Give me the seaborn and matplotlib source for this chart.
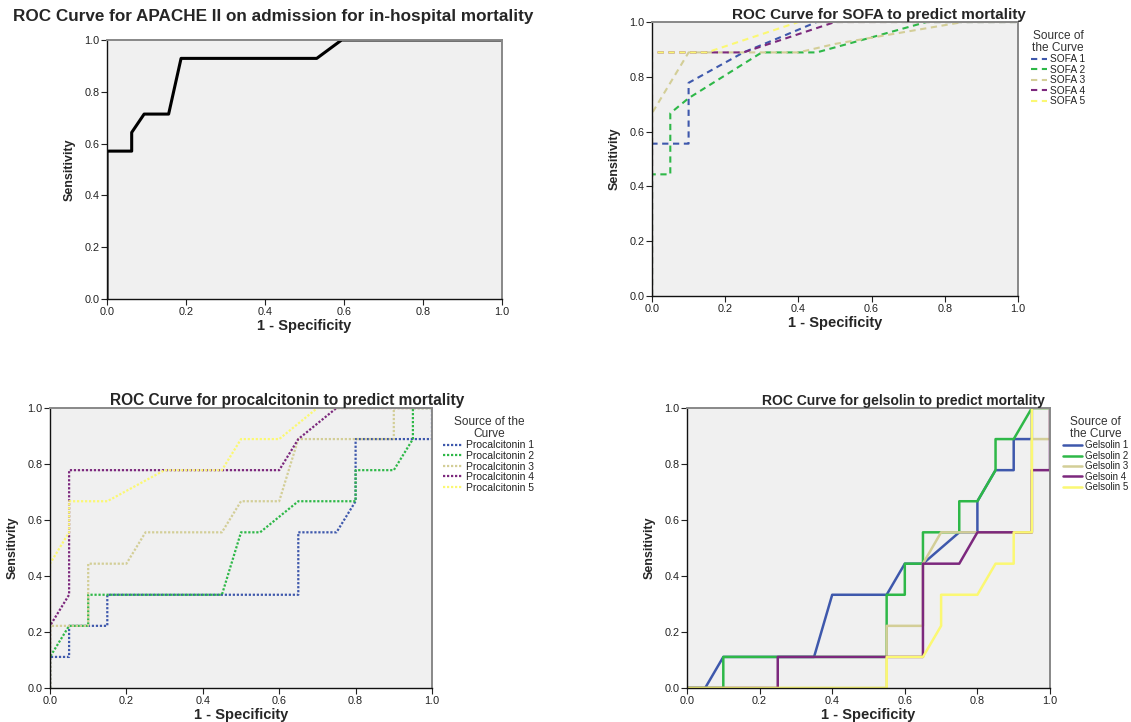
import numpy as np
import pandas as pd
import matplotlib
matplotlib.use("Agg")
import matplotlib.pyplot as plt
import seaborn as sns

sns.set_theme(style="white")
plt.rcParams['font.family'] = ['Liberation Sans', 'DejaVu Sans']

# ---------------- data ----------------
apache_x = [0, 0, 0.0625, 0.0625, 0.094, 0.156, 0.1875, 0.531, 0.594, 1.0]
apache_y = [0, 0.571, 0.571, 0.643, 0.714, 0.714, 0.929, 0.929, 1.0, 1.0]

sofa_labels = ["SOFA 1", "SOFA 2", "SOFA 3", "SOFA 4", "SOFA 5"]
sofa_x = [
    [0, 0, 0.1, 0.1, 0.25, 0.35, 0.45, 1.0],
    [0, 0, 0.05, 0.05, 0.1, 0.3, 0.45, 0.6, 0.75, 1.0],
    [0, 0, 0.1, 0.4, 0.5, 0.85, 1.0],
    [0, 0, 0.25, 0.5, 1.0],
    [0, 0, 0.15, 0.4, 1.0],
]
sofa_y = [
    [0, 0.556, 0.556, 0.778, 0.889, 0.944, 1.0, 1.0],
    [0, 0.444, 0.444, 0.667, 0.722, 0.889, 0.889, 0.944, 1.0, 1.0],
    [0, 0.667, 0.889, 0.889, 0.92, 1.0, 1.0],
    [0, 0.889, 0.889, 1.0, 1.0],
    [0, 0.889, 0.889, 1.0, 1.0],
]

pct_labels = ["Procalcitonin 1", "Procalcitonin 2", "Procalcitonin 3",
              "Procalcitonin 4", "Procalcitonin 5"]
pct_x = [
    [0, 0, 0.05, 0.05, 0.15, 0.15, 0.65, 0.65, 0.75, 0.8, 0.8, 1.0, 1.0],
    [0, 0, 0.05, 0.1, 0.1, 0.45, 0.5, 0.55, 0.65, 0.8, 0.8, 0.9, 0.95, 0.95, 1.0],
    [0, 0, 0.1, 0.1, 0.2, 0.25, 0.45, 0.5, 0.6, 0.65, 0.9, 0.9, 1.0],
    [0, 0, 0.05, 0.05, 0.6, 0.65, 0.75, 1.0],
    [0, 0, 0.05, 0.05, 0.15, 0.3, 0.45, 0.5, 0.6, 0.7, 1.0],
]
pct_y = [
    [0, 0.111, 0.111, 0.222, 0.222, 0.333, 0.333, 0.556, 0.556, 0.667, 0.889, 0.889, 1.0],
    [0, 0.111, 0.222, 0.222, 0.333, 0.333, 0.556, 0.556, 0.667, 0.667, 0.778, 0.778, 0.889, 1.0, 1.0],
    [0, 0.222, 0.222, 0.444, 0.444, 0.556, 0.556, 0.667, 0.667, 0.889, 0.889, 1.0, 1.0],
    [0, 0.222, 0.333, 0.778, 0.778, 0.889, 1.0, 1.0],
    [0, 0.444, 0.556, 0.667, 0.667, 0.778, 0.778, 0.889, 0.889, 1.0, 1.0],
]

gel_labels = ["Gelsolin 1", "Gelsolin 2", "Gelsolin 3", "Gelsoin 4", "Gelsolin 5"]
gel_x = [
    [0, 0.05, 0.1, 0.35, 0.4, 0.55, 0.6, 0.65, 0.75, 0.8, 0.8, 0.85, 0.9, 0.9, 0.95, 0.95, 1.0],
    [0, 0.1, 0.1, 0.25, 0.55, 0.55, 0.6, 0.6, 0.65, 0.65, 0.75, 0.75, 0.8, 0.85, 0.85, 0.9, 0.95, 1.0],
    [0, 0.55, 0.55, 0.65, 0.65, 0.7, 0.8, 0.95, 0.95, 1.0, 1.0],
    [0, 0.25, 0.25, 0.65, 0.65, 0.75, 0.8, 0.95, 0.95, 1.0, 1.0],
    [0, 0.55, 0.55, 0.65, 0.7, 0.7, 0.8, 0.85, 0.9, 0.9, 0.95, 0.95, 1.0],
]
gel_y = [
    [0, 0, 0.111, 0.111, 0.333, 0.333, 0.444, 0.444, 0.556, 0.556, 0.667, 0.778, 0.778, 0.889, 0.889, 1.0, 1.0],
    [0, 0, 0.111, 0.111, 0.111, 0.333, 0.333, 0.444, 0.444, 0.556, 0.556, 0.667, 0.667, 0.778, 0.889, 0.889, 1.0, 1.0],
    [0, 0, 0.222, 0.222, 0.444, 0.556, 0.556, 0.556, 0.889, 0.889, 1.0],
    [0, 0, 0.111, 0.111, 0.444, 0.444, 0.556, 0.556, 0.778, 0.778, 1.0],
    [0, 0, 0.111, 0.111, 0.222, 0.333, 0.333, 0.444, 0.444, 0.556, 0.556, 1.0, 1.0],
]

colors = ["#3E58AC", "#2EB848", "#D3CE97", "#7C287D", "#FBF873"]

# ---------------- figure ----------------
W, H = 1131, 722
fig = plt.figure(figsize=(W / 100, H / 100), dpi=100)
fig.patch.set_facecolor("white")


def make_ax(left, top, right, bottom):
    return fig.add_axes([left / W, 1 - bottom / H, (right - left) / W, (bottom - top) / H])


def style_ax(ax, title, tx, tsize, tpad):
    ax.set_facecolor("#F0F0F0")
    ax.set_xlim(0, 1)
    ax.set_ylim(0, 1)
    ticks = [0, 0.2, 0.4, 0.6, 0.8, 1.0]
    ax.set_xticks(ticks)
    ax.set_yticks(ticks)
    ax.set_xticklabels([f"{t:.1f}" for t in ticks])
    ax.set_yticklabels([f"{t:.1f}" for t in ticks])
    ax.tick_params(axis="both", direction="out", length=4, width=0.8,
                   labelsize=7.8, colors="#222222", pad=1.5,
                   bottom=True, left=True)
    for side in ["left", "bottom"]:
        ax.spines[side].set_color("#111111")
        ax.spines[side].set_linewidth(1.0)
    for side in ["top", "right"]:
        ax.spines[side].set_color("#888888")
        ax.spines[side].set_linewidth(1.4)
    ax.set_xlabel("1 - Specificity", fontsize=10.5, fontweight="bold", labelpad=2)
    ax.set_ylabel("Sensitivity", fontsize=9, fontweight="bold", labelpad=6)
    ax.set_title(title, fontsize=tsize, fontweight="bold", x=tx, pad=tpad)


# Panel 1
ax1 = make_ax(107, 40, 502, 299)
sns.lineplot(x=apache_x, y=apache_y, sort=False, estimator=None, ax=ax1,
             color="black", linewidth=2.2)
style_ax(ax1, "ROC Curve for APACHE II on admission for in-hospital mortality",
         0.42, 12.3, 14)


def multi(ax, xs, ys, labels, ls, lw, title, tx, tsize, tpad, ltitle, anchor,
          hl, fs, tfs):
    for xv, yv, lab, c in zip(xs, ys, labels, colors):
        sns.lineplot(x=xv, y=yv, sort=False, estimator=None, ax=ax,
                     color=c, linewidth=lw, linestyle=ls, label=lab)
    style_ax(ax, title, tx, tsize, tpad)
    leg = ax.legend(title=ltitle, loc="upper left", bbox_to_anchor=anchor,
                    frameon=False, fontsize=fs, title_fontsize=tfs,
                    handlelength=hl, handletextpad=0.3, labelspacing=0.05,
                    borderaxespad=0, borderpad=0)
    t = leg.get_title()
    t.set_multialignment("center")
    t.set_color("#333333")
    t.set_linespacing(0.95)
    for txt in leg.get_texts():
        txt.set_color("#222222")


ax2 = make_ax(652, 22, 1018, 296)
multi(ax2, sofa_x, sofa_y, sofa_labels, (0, (3, 2.2)), 1.5,
      "ROC Curve for SOFA to predict mortality", 0.62, 11.0, 2.5,
      "Source of\nthe Curve", (1.035, 0.97), 1.6, 7.3, 8.6)

ax3 = make_ax(50, 408, 432, 688)
multi(ax3, pct_x, pct_y, pct_labels, (0, (1, 0.8)), 1.6,
      "ROC Curve for procalcitonin to predict mortality", 0.62, 11.2, 2,
      "Source of the\nCurve", (1.03, 0.97), 1.9, 7.5, 8.6)

ax4 = make_ax(687, 408, 1050, 688)
multi(ax4, gel_x, gel_y, gel_labels, "-", 1.8,
      "ROC Curve for gelsolin to predict mortality", 0.595, 10, 2,
      "Source of\nthe Curve", (1.035, 0.97), 2.0, 7.0, 8.6)

fig.savefig("out.png", dpi=100, facecolor="white")
